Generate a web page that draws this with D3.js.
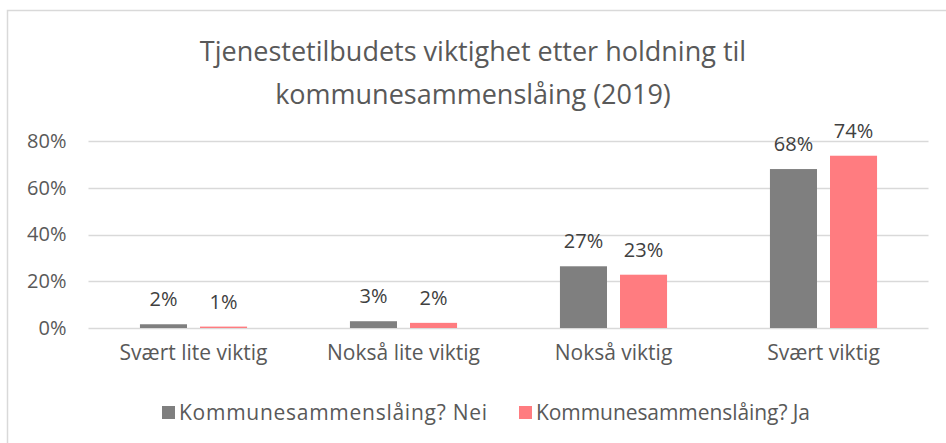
<!DOCTYPE html>
<html lang="no">
<head>
  <meta charset="UTF-8" />
  <script src="https://d3js.org/d3.v7.min.js"></script>
  <style>
    body { margin: 0; background: #fff; }
    text { font-family: "Open Sans", "Noto Sans", sans-serif; }
  </style>
</head>
<body>
  <div id="scene"></div>

  <script>
    const categories = ["Svært lite viktig", "Nokså lite viktig", "Nokså viktig", "Svært viktig"];
    const seriesNames = ["Kommunesammenslåing? Nei", "Kommunesammenslåing? Ja"];
    const nei = [1.6, 2.9, 26.4, 68.0];
    const ja = [0.6, 2.2, 22.8, 73.7];
    const labelsNei = ["2%", "3%", "27%", "68%"];
    const labelsJa = ["1%", "2%", "23%", "74%"];
    const yTicks = [0, 20, 40, 60, 80];
    const colors = ["#7f7f7f", "#ff7c80"];

    const W = 946, H = 443;
    const svg = d3.select("#scene").append("svg").attr("width", W).attr("height", H);

    // chart frame
    svg.append("rect")
      .attr("x", 7.5).attr("y", 10.5).attr("width", W - 4).attr("height", H)
      .attr("fill", "#fff").attr("stroke", "#d9d9d9").attr("stroke-width", 1.5);

    const plot = { left: 88.5, right: 928.5, top: 141, bottom: 328 };

    const x = d3.scaleBand().domain(categories)
      .range([plot.left, plot.right]).paddingInner(0.49).paddingOuter(0.245);
    const xs = d3.scaleBand().domain([0, 1])
      .range([0, x.bandwidth()]).paddingInner(0.2167).paddingOuter(0);
    const y = d3.scaleLinear().domain([0, 80]).range([plot.bottom, plot.top]);

    // gridlines
    svg.append("g").selectAll("line").data(yTicks).join("line")
      .attr("x1", plot.left).attr("x2", plot.right)
      .attr("y1", d => Math.round(y(d)) + 0.5).attr("y2", d => Math.round(y(d)) + 0.5)
      .attr("stroke", "#d9d9d9").attr("stroke-width", 1.5);

    // y axis labels
    const yAxis = svg.append("g").attr("transform", `translate(${plot.left},0)`)
      .call(d3.axisLeft(y).tickValues(yTicks).tickFormat(d => d + "%").tickSize(0).tickPadding(22));
    yAxis.select(".domain").remove();
    yAxis.selectAll("text").attr("font-size", 20).attr("fill", "#595959")
      .attr("font-family", "'Open Sans', sans-serif");

    // x axis labels
    const xAxis = svg.append("g").attr("transform", `translate(0,${plot.bottom})`)
      .call(d3.axisBottom(x).tickSize(0).tickPadding(17));
    xAxis.select(".domain").remove();
    xAxis.selectAll("text").attr("font-size", 21).attr("fill", "#595959")
      .attr("font-family", "'Open Sans', sans-serif");

    const series = [nei, ja];
    const labels = [labelsNei, labelsJa];

    series.forEach((vals, s) => {
      const g = svg.append("g");
      g.selectAll("rect").data(vals).join("rect")
        .attr("x", (d, i) => x(categories[i]) + xs(s))
        .attr("width", xs.bandwidth())
        .attr("y", d => y(d))
        .attr("height", d => plot.bottom - y(d))
        .attr("fill", colors[s]);
      g.selectAll("text").data(vals).join("text")
        .attr("x", (d, i) => x(categories[i]) + xs(s) + xs.bandwidth() / 2)
        .attr("y", d => y(d) - 18)
        .attr("text-anchor", "middle")
        .attr("font-size", 20)
        .attr("fill", "#404040")
        .text((d, i) => labels[s][i]);
    });

    // title
    const title = svg.append("text").attr("x", 473).attr("text-anchor", "middle")
      .attr("font-size", 27).attr("fill", "#595959");
    title.append("tspan").attr("x", 473).attr("y", 61).text("Tjenestetilbudets viktighet etter holdning til");
    title.append("tspan").attr("x", 473).attr("y", 104).text("kommunesammenslåing (2019)");

    // legend
    const legendX = [162, 519];
    const legendW = [308, 274];
    const legend = svg.append("g");
    seriesNames.forEach((name, i) => {
      legend.append("rect").attr("x", legendX[i]).attr("y", 406)
        .attr("width", 13).attr("height", 13).attr("fill", colors[i]);
      legend.append("text").attr("x", legendX[i] + 17).attr("y", 420)
        .attr("font-size", 21).attr("fill", "#595959")
        .attr("textLength", legendW[i]).attr("lengthAdjust", "spacing")
        .text(name);
    });
  </script>
</body>
</html>
